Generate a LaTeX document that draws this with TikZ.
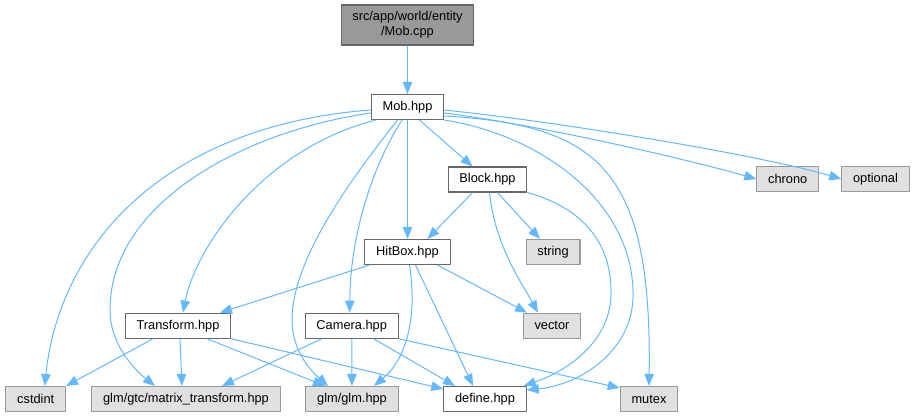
\documentclass[tikz,border=0pt]{standalone}
\usepackage{fontspec}
\setmainfont{Liberation Sans}
\usetikzlibrary{arrows.meta}

\definecolor{edgeblue}{HTML}{63B8FF}
\definecolor{filegray}{HTML}{666666}
\definecolor{sysgray}{HTML}{999999}
\definecolor{sysfill}{HTML}{E0E0E0}

\begin{document}
\begin{tikzpicture}[x=1pt, y=-1pt, line join=round,
  file/.style={draw=filegray, line width=1.1pt, fill=white, inner xsep=11.3pt, inner ysep=0pt,
    minimum height=25pt, font=\fontsize{12.8}{15}\selectfont},
  sysfile/.style={file, draw=sysgray, fill=sysfill},
  dep/.style={draw=edgeblue, line width=1pt, -{Triangle[length=12pt,width=9.5pt]}}]

  % fix the canvas first
  \path[use as bounding box] (0,0) rectangle (915,417);

  %% ════ files ════
  \node[file, fill=sysgray, align=center, minimum height=40pt] (mobcpp) at (407.5,25) {src/app/world/entity\\/Mob.cpp};
  \node[file] (mobhpp) at (407.5,107) {Mob.hpp};
  \node[file] (block) at (487.5,179.5) {Block.hpp};
  \node[file] (hitbox) at (407.5,252) {HitBox.hpp};
  \node[file] (transform) at (178,325.7) {Transform.hpp};
  \node[file] (camera) at (351.7,325.7) {Camera.hpp};
  \node[file] (define) at (485,399) {define.hpp};

  %% ════ system headers ════
  \node[sysfile] (chrono) at (787.7,179) {chrono};
  \node[sysfile] (optional) at (875.5,179) {optional};
  \node[sysfile] (string) at (553,252) {string};
  \node[sysfile] (vector) at (552,325.7) {vector};
  \node[sysfile] (cstdint) at (35.7,399) {cstdint};
  \node[sysfile] (matrix) at (186,399) {glm/gtc/matrix\_transform.hpp};
  \node[sysfile] (glm) at (352,399) {glm/glm.hpp};
  \node[sysfile] (mutex) at (649,399) {mutex};

  %% ════ Mob.hpp includes ════
  \draw[dep] (mobcpp) -- (mobhpp);
  \draw[dep] ([xshift=12pt]mobhpp.south) -- ([xshift=-15pt]block.north);
  \draw[dep] (mobhpp) -- (hitbox);
  \draw[dep] ([yshift=-6pt]mobhpp.east) .. controls (540,125) and (690,160) .. (chrono.west);
  \draw[dep] ([yshift=-3pt]mobhpp.east) .. controls (560,122) and (760,155) .. (optional.west);
  \draw[dep] ([yshift=-9pt]mobhpp.east) .. controls (600,125) and (652,170) .. (mutex.north);
  \draw[dep] (mobhpp.south east) .. controls (540,135) and (630,200) .. (633,290)
    .. controls (636,350) and (580,385) .. ([yshift=-4pt]define.north east);
  \draw[dep] ([xshift=-32pt]mobhpp.south) .. controls (260,150) and (195,250) .. ([xshift=5pt]transform.north);
  \draw[dep] ([xshift=-5.5pt]mobhpp.south) .. controls (370,170) and (350,240) .. ([xshift=-2pt]camera.north);
  \draw[dep] ([yshift=-6pt]mobhpp.west) .. controls (250,130) and (110,200) .. (110,310)
    .. controls (110,345) and (135,370) .. ([xshift=-31pt]matrix.north);
  \draw[dep] ([yshift=-3pt]mobhpp.west) .. controls (170,125) and (60,240) .. ([xshift=9pt]cstdint.north);
  \draw[dep] ([xshift=-10pt]mobhpp.south) .. controls (350,180) and (292,260) .. (292,320)
    .. controls (292,350) and (310,370) .. ([xshift=-24pt]glm.north);

  %% ════ Block.hpp includes ════
  \draw[dep] ([xshift=-15pt]block.south) -- ([xshift=20pt]hitbox.north);
  \draw[dep] ([xshift=10pt]block.south) -- ([xshift=-13pt]string.north);
  \draw[dep] ([xshift=2pt]block.south) .. controls (495,245) and (520,280) .. ([xshift=-14pt]vector.north);
  \draw[dep] (block.south east) .. controls (590,210) and (612,250) .. (611,295)
    .. controls (610,340) and (570,370) .. ([xshift=-3pt]define.north east);

  %% ════ HitBox.hpp includes ════
  \draw[dep] ([xshift=-38pt]hitbox.south) -- ([xshift=42pt]transform.north);
  \draw[dep] ([xshift=30pt]hitbox.south) -- ([xshift=-25pt]vector.north);
  \draw[dep] ([xshift=2pt]hitbox.south) .. controls (418,320) and (405,360) .. ([xshift=22pt]glm.north);
  \draw[dep] ([xshift=8pt]hitbox.south) -- ([xshift=-12pt]define.north);

  %% ════ Transform.hpp / Camera.hpp includes ════
  \draw[dep] ([xshift=-25pt]transform.south) -- (cstdint.north east);
  \draw[dep] ([xshift=2pt]transform.south) -- ([xshift=-4pt]matrix.north);
  \draw[dep] ([xshift=29pt]transform.south) -- ([xshift=-27pt]glm.north);
  \draw[dep] (transform.south east) -- ([yshift=-3pt]define.north west);
  \draw[dep] ([xshift=-30pt]camera.south) -- ([xshift=36pt]matrix.north);
  \draw[dep] (camera) -- (glm);
  \draw[dep] ([xshift=22pt]camera.south) -- ([xshift=-30pt]define.north);
  \draw[dep] (camera.south east) -- ([yshift=-2pt]mutex.north west);
\end{tikzpicture}
\end{document}
